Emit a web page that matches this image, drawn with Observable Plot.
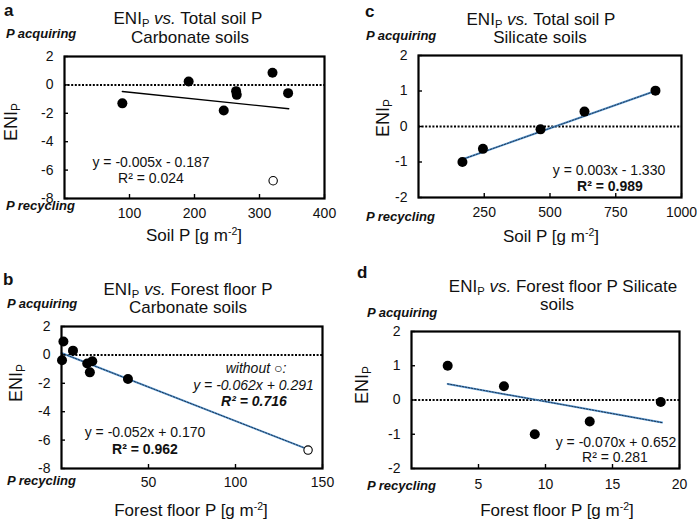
<!DOCTYPE html>
<html><head><meta charset="utf-8">
<script src="https://cdn.jsdelivr.net/npm/d3@7"></script>
<script src="https://cdn.jsdelivr.net/npm/@observablehq/plot@0.6"></script>
<style>
body{margin:0;background:#fff;}
#chart{position:relative;width:697px;height:521px;overflow:hidden;font-family:"Liberation Sans",Arial,sans-serif;}
#chart svg{position:absolute;left:0;top:0;}
</style></head><body><div id="chart"></div>
<script>
const W = 697, H = 521;

// Panel a: ENI_P vs. total soil P, carbonate soils
const aSoilP = [89, 191, 245, 264, 265, 320, 344];
const aENIP = [-1.3, 0.24, -1.8, -0.44, -0.7, 0.85, -0.58];
const aOutSoilP = [321];
const aOutENIP = [-6.75];
const aTrendX = [89, 345];
const aTrendY = [-0.46, -1.68];
const aXTicks = [100, 200, 300, 400];
const aYTicks = [-8, -6, -4, -2, 0, 2];

// Panel b: ENI_P vs. forest floor P, carbonate soils
const bFloorP = [1.1, 0.3, 6.6, 14.8, 17.7, 16.3, 38.2];
const bENIP = [0.94, -0.38, 0.3, -0.6, -0.45, -1.23, -1.7];
const bOutFloorP = [141.7];
const bOutENIP = [-6.7];
const bTrendX = [0, 141.7];
const bTrendY = [0.13, -6.65];
const bXTicks = [50, 100, 150];
const bYTicks = [-8, -6, -4, -2, 0, 2];

// Panel c: ENI_P vs. total soil P, silicate soils
const cSoilP = [167, 245, 464, 631, 901];
const cENIP = [-1.0, -0.63, -0.08, 0.42, 1.01];
const cTrendX = [165, 900];
const cTrendY = [-0.93, 1.0];
const cXTicks = [250, 500, 750, 1000];
const cYTicks = [-2, -1, 0, 1, 2];

// Panel d: ENI_P vs. forest floor P, silicate soils
const dFloorP = [2.7, 6.9, 9.2, 13.3, 18.6];
const dENIP = [1.0, 0.4, -1.0, -0.63, -0.06];
const dTrendX = [2.7, 18.7];
const dTrendY = [0.47, -0.66];
const dXTicks = [5, 10, 15, 20];
const dYTicks = [-2, -1, 0, 1, 2];

const FONT = '"Liberation Sans", Arial, sans-serif';
const zip = (xs, ys) => xs.map((x, i) => ({x, y: ys[i]}));

const panels = [
  {l: 64, t: 56, r: 324, b: 198, xd: [0, 400], yd: [-8, 2], pts: zip(aSoilP, aENIP), out: zip(aOutSoilP, aOutENIP),
   tr: zip(aTrendX, aTrendY), blue: false, xt: aXTicks, yt: aYTicks, xpad: 10},
  {l: 61, t: 326, r: 322, b: 468, xd: [0, 150], yd: [-8, 2], pts: zip(bFloorP, bENIP), out: zip(bOutFloorP, bOutENIP),
   tr: zip(bTrendX, bTrendY), blue: true, xt: bXTicks, yt: bYTicks, xpad: 9},
  {l: 418, t: 55, r: 681, b: 197, xd: [0, 1000], yd: [-2, 2], pts: zip(cSoilP, cENIP), out: [],
   tr: zip(cTrendX, cTrendY), blue: true, xt: cXTicks, yt: cYTicks, xpad: 10},
  {l: 411, t: 331, r: 679, b: 468, xd: [0, 20], yd: [-2, 2], pts: zip(dFloorP, dENIP), out: [],
   tr: zip(dTrendX, dTrendY), blue: true, xt: dXTicks, yt: dYTicks, xpad: 11}
];

const chart = document.getElementById("chart");
for (const p of panels) {
  const fw = p.r - p.l, fh = p.b - p.t;
  const marks = [
    Plot.ruleY([0], {stroke: "black", strokeWidth: 2, strokeDasharray: "2,1.6"})
  ];
  if (p.blue) {
    marks.push(Plot.line(p.tr, {x: "x", y: "y", stroke: "#5b9bd5", strokeWidth: 2}));
    marks.push(Plot.line(p.tr, {x: "x", y: "y", stroke: "#1f3550", strokeWidth: 1, strokeDasharray: "1.5,1.5"}));
  } else {
    marks.push(Plot.line(p.tr, {x: "x", y: "y", stroke: "black", strokeWidth: 1.4}));
  }
  marks.push(Plot.dot(p.pts, {x: "x", y: "y", r: 5, fill: "black"}));
  if (p.out.length) marks.push(Plot.dot(p.out, {x: "x", y: "y", r: 4.2, fill: "white", stroke: "black", strokeWidth: 1.1}));
  marks.push(Plot.tickX(p.xt, {x: d => d, stroke: "black", strokeWidth: 1.4, insetTop: fh - 4}));
  marks.push(Plot.tickY(p.yt, {y: d => d, stroke: "black", strokeWidth: 1.4, insetRight: fw - 4}));
  marks.push(Plot.frame({stroke: "black", strokeWidth: 2.2}));
  marks.push(Plot.axisX({ticks: p.xt, tickSize: 0, tickPadding: p.xpad, fontSize: 14, label: null, tickFormat: d => String(d), fill: "#111"}));
  marks.push(Plot.axisY({ticks: p.yt, tickSize: 0, tickPadding: 11, fontSize: 14, label: null, tickFormat: d => String(d), fill: "#111"}));
  const svg = Plot.plot({
    width: W, height: H,
    marginLeft: p.l, marginRight: W - p.r, marginTop: p.t, marginBottom: H - p.b,
    x: {domain: p.xd}, y: {domain: p.yd},
    style: {background: "transparent", fontFamily: FONT, fontSize: "14px", color: "black", overflow: "visible"},
    marks
  });
  chart.appendChild(svg);
}

// Text overlay
const ov = d3.select("#chart").append("svg").attr("width", W).attr("height", H)
  .style("font-family", FONT).style("overflow", "visible");

function txt(x, y, parts, o = {}) {
  const fs = o.fs || 14;
  const t = ov.append("text").attr("x", x).attr("y", y)
    .attr("font-size", fs).attr("text-anchor", o.anchor || "middle").attr("fill", "#111");
  if (o.bold) t.attr("font-weight", "bold");
  if (o.italic) t.attr("font-style", "italic");
  if (o.rotate) t.attr("transform", `rotate(-90 ${x} ${y})`);
  let shift = 0;
  for (const part of parts) {
    const s = typeof part === "string" ? {t: part} : part;
    const ts = t.append("tspan").text(s.t);
    let target = 0;
    if (s.sub) { ts.attr("font-size", fs * 0.66); target = fs * 0.18; }
    if (s.sup) { ts.attr("font-size", fs * 0.62); target = -fs * 0.38; }
    if (s.italic) ts.attr("font-style", "italic");
    if (s.bold) ts.attr("font-weight", "bold");
    if (target !== shift) { ts.attr("dy", target - shift); shift = target; }
  }
}

const TF = 17;
const eniTitle = (rest) => ["ENI", {t: "P", sub: true}, " ", {t: "vs.", italic: true}, rest];

// panel letters
txt(4, 16, ["a"], {fs: 17, bold: true, anchor: "start"});
txt(365, 16.5, ["c"], {fs: 17, bold: true, anchor: "start"});
txt(3, 285, ["b"], {fs: 17, bold: true, anchor: "start"});
txt(357, 278, ["d"], {fs: 17, bold: true, anchor: "start"});

// titles
txt(188, 24, eniTitle(" Total soil P"), {fs: TF});
txt(190, 42.5, ["Carbonate soils"], {fs: TF});
txt(541, 24.5, eniTitle(" Total soil P"), {fs: TF});
txt(540, 42.5, ["Silicate soils"], {fs: TF});
txt(188, 294.5, eniTitle(" Forest floor P"), {fs: TF});
txt(188, 312.5, ["Carbonate soils"], {fs: TF});
txt(563, 292, eniTitle(" Forest floor P  Silicate"), {fs: TF});
txt(557, 310, ["soils"], {fs: TF});

// P acquiring / recycling
const side = {fs: 13, bold: true, italic: true, anchor: "start"};
txt(6, 38, ["P acquiring"], side);
txt(6, 210, ["P recycling"], side);
txt(366, 40, ["P acquiring"], side);
txt(366, 221, ["P recycling"], side);
txt(7, 308, ["P acquiring"], side);
txt(7, 485, ["P recycling"], side);
txt(367, 317, ["P acquiring"], side);
txt(367, 490, ["P recycling"], side);

// x axis titles
const soilT = ["Soil P [g m", {t: "-2", sup: true}, {t: "]"}];
const floorT = ["Forest floor P [g m", {t: "-2", sup: true}, {t: "]"}];
txt(194, 241, soilT, {fs: TF});
txt(551, 242, soilT, {fs: TF});
txt(191, 516, floorT, {fs: TF});
txt(557, 516, floorT, {fs: TF});

// y axis titles
const eni = ["ENI", {t: "P", sub: true}];
txt(17, 122, eni, {fs: 18, rotate: true});
txt(389, 118, eni, {fs: 18, rotate: true});
txt(22, 383, eni, {fs: 18, rotate: true});
txt(368, 385, eni, {fs: 18, rotate: true});

// equations
txt(151, 167, ["y = -0.005x - 0.187"]);
txt(151, 183, ["R² = 0.024"]);
txt(256, 373, ["without ○:"], {italic: true});
txt(253.5, 389.5, ["y = -0.062x + 0.291"], {italic: true});
txt(254, 406, ["R² = 0.716"], {italic: true, bold: true});
txt(145, 437, ["y = -0.052x + 0.170"]);
txt(145, 453.5, ["R² = 0.962"], {bold: true});
txt(609, 175, ["y = 0.003x - 1.330"]);
txt(610, 190.5, ["R² = 0.989"], {bold: true});
txt(616, 446.5, ["y = -0.070x + 0.652"]);
txt(615, 461.5, ["R² = 0.281"]);
</script></body></html>
